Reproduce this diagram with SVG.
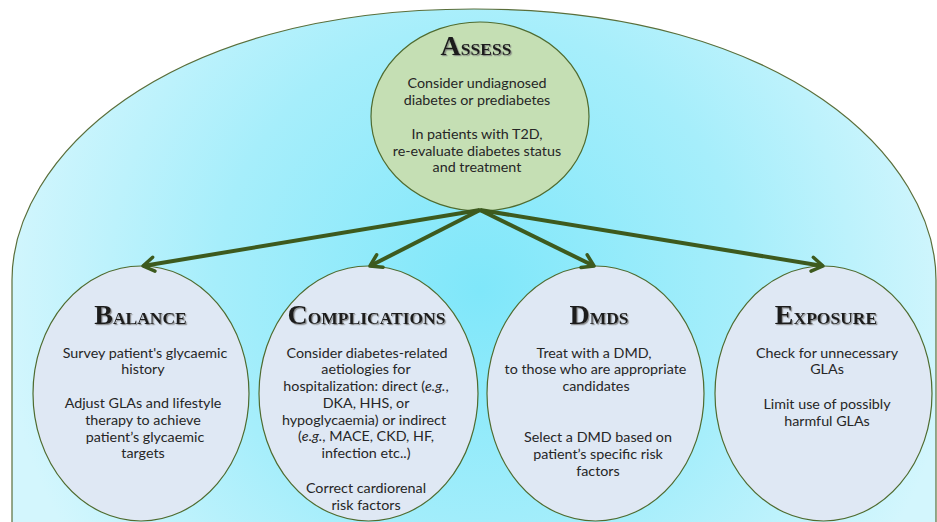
<svg xmlns="http://www.w3.org/2000/svg" width="937" height="522" viewBox="0 0 937 522">
<defs>
<radialGradient id="bg" cx="480" cy="290" r="480" gradientUnits="userSpaceOnUse">
<stop offset="0" stop-color="#7fe7fa"/>
<stop offset="0.55" stop-color="#a6eefb"/>
<stop offset="1" stop-color="#d3f6fd"/>
</radialGradient>
<marker id="arr" markerUnits="userSpaceOnUse" markerWidth="20" markerHeight="20" viewBox="0 0 20 20" refX="14" refY="10" orient="auto">
<path d="M3,3 L14,10 L3,17" fill="none" stroke="#3d5a1e" stroke-width="3.5" stroke-linecap="round" stroke-linejoin="round"/>
</marker>
<filter id="sh" x="-10%" y="-30%" width="130%" height="160%">
<feDropShadow dx="1.2" dy="1.2" stdDeviation="0.6" flood-color="#777" flood-opacity="0.8"/>
</filter>
</defs>
<style>
.node{fill:#dfe8f4;stroke:#4f6b2f;stroke-width:1.2}
.assess{fill:#c5dfb4;stroke:#4f6b2f;stroke-width:1.2}
.t{font-family:"Liberation Serif","DejaVu Serif",serif;font-weight:bold;fill:#1c1c1c;text-anchor:middle;filter:url(#sh)}
.big{font-size:28px}
.sm{font-size:17.5px}
.b{font-family:Lato,"Noto Sans",sans-serif;font-size:14.3px;fill:#262626;text-anchor:middle}
.conn{stroke:#3d5a1e;stroke-width:4;fill:none;marker-end:url(#arr)}
</style>
<rect width="937" height="522" fill="#ffffff"/>
<path id="background" d="M12,522 L12,280 C12,160 160,9 474,9 C788,9 936,160 936,280 L936,522" fill="url(#bg)" stroke="#5a6e3a" stroke-width="1.2"/>

<g id="assess">
<ellipse class="assess" cx="480" cy="116.5" rx="109" ry="94.5"/>
<text class="t" x="476" y="55"><tspan class="big">A</tspan><tspan class="sm">SSESS</tspan></text>
<text class="b" x="477" y="88.3">Consider undiagnosed</text>
<text class="b" x="477" y="105">diabetes or prediabetes</text>
<text class="b" x="477" y="139">In patients with T2D,</text>
<text class="b" x="477" y="155.7">re-evaluate diabetes status</text>
<text class="b" x="477" y="172.3">and treatment</text>
</g>

<g id="balance">
<ellipse class="node" cx="141" cy="393.5" rx="108" ry="127.5"/>
<text class="t" x="140.5" y="324"><tspan class="big">B</tspan><tspan class="sm">ALANCE</tspan></text>
<text class="b" x="145" y="357.5">Survey patient's glycaemic</text>
<text class="b" x="143" y="374.2">history</text>
<text class="b" x="143" y="408.3">Adjust GLAs and lifestyle</text>
<text class="b" x="143" y="425">therapy to achieve</text>
<text class="b" x="145" y="441.7">patient’s glycaemic</text>
<text class="b" x="143" y="458.4">targets</text>
</g>

<g id="complications">
<ellipse class="node" cx="368.5" cy="393.5" rx="109.5" ry="127.5"/>
<text class="t" x="366.5" y="323.5"><tspan class="big">C</tspan><tspan class="sm">OMPLICATIONS</tspan></text>
<text class="b" x="367" y="357.7">Consider diabetes-related</text>
<text class="b" x="366" y="374.4">aetiologies for</text>
<text class="b" x="366" y="391.1">hospitalization: direct (<tspan font-style="italic">e.g.</tspan>,</text>
<text class="b" x="366" y="407.8">DKA, HHS, or</text>
<text class="b" x="364" y="424.5">hypoglycaemia) or indirect</text>
<text class="b" x="366" y="441.2">(<tspan font-style="italic">e.g.</tspan>, MACE, CKD, HF,</text>
<text class="b" x="366" y="457.9">infection etc..)</text>
<text class="b" x="366" y="493.3">Correct cardiorenal</text>
<text class="b" x="366" y="510">risk factors</text>
</g>

<g id="dmds">
<ellipse class="node" cx="595.5" cy="393.5" rx="108.5" ry="127.5"/>
<text class="t" x="599" y="323.5"><tspan class="big">D</tspan><tspan class="sm">MDS</tspan></text>
<text class="b" x="594" y="357.7">Treat with a DMD,</text>
<text class="b" x="595.5" y="374.4">to those who are appropriate</text>
<text class="b" x="596" y="391.1">candidates</text>
<text class="b" x="598" y="442.3">Select a DMD based on</text>
<text class="b" x="598" y="459">patient’s specific risk</text>
<text class="b" x="598" y="475.7">factors</text>
</g>

<g id="exposure">
<ellipse class="node" cx="823.5" cy="393.5" rx="108.5" ry="127.5"/>
<text class="t" x="826" y="324"><tspan class="big">E</tspan><tspan class="sm">XPOSURE</tspan></text>
<text class="b" x="827" y="357.7">Check for unnecessary</text>
<text class="b" x="827" y="374.4">GLAs</text>
<text class="b" x="827" y="409">Limit use of possibly</text>
<text class="b" x="827" y="425.7">harmful GLAs</text>
</g>

<g id="connectors">
<line class="conn" x1="480" y1="210" x2="143" y2="266"/>
<line class="conn" x1="480" y1="210" x2="370" y2="266"/>
<line class="conn" x1="480" y1="210" x2="594" y2="266"/>
<line class="conn" x1="480" y1="210" x2="823" y2="266"/>
</g>
</svg>
